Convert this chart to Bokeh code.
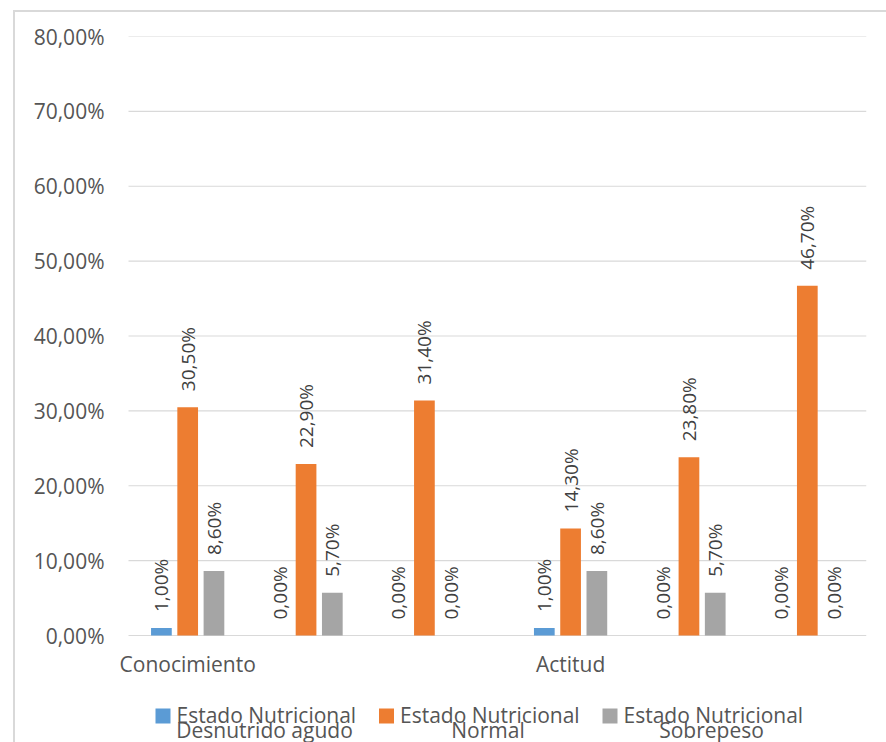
import math

from bokeh.core.properties import value
from bokeh.embed import file_html
from bokeh.models import ColumnDataSource, CustomJSTickFormatter, FixedTicker, Range1d
from bokeh.plotting import figure
from bokeh.resources import INLINE

# ---- data -------------------------------------------------------------
groups = ["Conocimiento", "Conocimiento", "Conocimiento", "Actitud", "Actitud", "Actitud"]
series_names = [
    ("Estado Nutricional", "Desnutrido agudo"),
    ("Estado Nutricional", "Normal"),
    ("Estado Nutricional", "Sobrepeso"),
]
desnutrido_agudo = [1.00, 0.00, 0.00, 1.00, 0.00, 0.00]
normal = [30.50, 22.90, 31.40, 14.30, 23.80, 46.70]
sobrepeso = [8.60, 5.70, 0.00, 8.60, 5.70, 0.00]
y_ticks = [0, 10, 20, 30, 40, 50, 60, 70, 80]

colors = ["#5B9BD5", "#ED7D31", "#A5A5A5"]

# ---- layout constants (pixels on the page) ----------------------------
W, H = 886, 742
FRAME_LEFT = 110           # drawing area starts here so the group label fits
PLOT_LEFT, PLOT_RIGHT = 128, 866   # extent of the value grid
FRAME_TOP, ZERO_Y = 36, 635
GROUP_GAP = 0.235          # extra space between the two groups, in cluster slots
BAR_W = 0.175
DODGE = 0.222
FONT = "Open Sans"
TEXT_COLOR = "#555555"
GRID_COLOR = "#d9d9d9"
BASELINE_FIX = 8           # lift horizontal texts onto their baseline

n = len(groups)
x_max = n + GROUP_GAP
px_per_x = (PLOT_RIGHT - PLOT_LEFT) / x_max
px_per_y = (ZERO_Y - FRAME_TOP) / y_ticks[-1]
x_start = -(PLOT_LEFT - FRAME_LEFT) / px_per_x
y_bottom = -(H - ZERO_Y) / px_per_y


def px_x(px):
    return (px - PLOT_LEFT) / px_per_x


def px_y(py):
    return (ZERO_Y - py) / px_per_y


def text_y(py):
    return px_y(py - BASELINE_FIX)


# cluster centres: one slot per cluster, a small gap where the group changes
centers = []
shift = 0.0
for i, g in enumerate(groups):
    if i > 0 and g != groups[i - 1]:
        shift += GROUP_GAP
    centers.append(i + 0.5 + shift)


def fmt(v):
    return f"{v:.2f}".replace(".", ",") + "%"


p = figure(
    width=W,
    height=H,
    x_range=Range1d(x_start, x_max),
    y_range=Range1d(y_bottom, y_ticks[-1]),
    x_axis_location=None,
    output_backend="svg",
    toolbar_location=None,
    min_border_left=FRAME_LEFT,
    min_border_right=W - PLOT_RIGHT,
    min_border_top=FRAME_TOP,
    min_border_bottom=0,
    styles={
        "background": (
            "linear-gradient(#d9d9d9,#d9d9d9) 13px 10px / 2px 732px no-repeat,"
            "linear-gradient(#d9d9d9,#d9d9d9) 13px 10px / 873px 2px no-repeat,"
            "#ffffff"
        )
    },
)
p.border_fill_alpha = 0
p.background_fill_color = "white"
p.outline_line_color = None
p.grid.visible = False

# horizontal value grid, spanning only the category area
p.segment(x0=0, x1=x_max, y0=y_ticks, y1=y_ticks, line_color=GRID_COLOR,
          line_width=1.2)

ax = p.yaxis[0]
ax.ticker = FixedTicker(ticks=y_ticks)
ax.formatter = CustomJSTickFormatter(code="return tick.toFixed(2).replace('.', ',') + '%';")
ax.axis_line_color = None
ax.major_tick_line_color = None
ax.minor_tick_line_color = None
ax.major_tick_in = 0
ax.major_tick_out = 0
ax.major_label_standoff = FRAME_LEFT - 104
ax.major_label_text_font = FONT
ax.major_label_text_font_size = "21px"
ax.major_label_text_color = TEXT_COLOR

# ---- bars and their value labels --------------------------------------
offsets = [-DODGE, 0.0, DODGE]
for vals, off, col in zip([desnutrido_agudo, normal, sobrepeso], offsets, colors):
    xs = [c + off for c in centers]
    src = ColumnDataSource(dict(x=xs, top=vals, label=[fmt(v) for v in vals]))
    p.vbar(x="x", top="top", bottom=0, width=BAR_W, source=src,
           fill_color=col, line_color=None)
    p.text(x="x", y="top", text="label", source=src, angle=math.pi / 2,
           text_align="left", text_baseline="middle", y_offset=-16,
           text_font=value(FONT), text_font_size="19px", text_color="#404040")

# ---- group labels under the first cluster of each group ---------------
first_idx = [i for i, g in enumerate(groups) if i == 0 or g != groups[i - 1]]
cat_src = ColumnDataSource(dict(
    x=[centers[i] for i in first_idx],
    y=[text_y(671)] * len(first_idx),
    text=[groups[i] for i in first_idx],
))
p.text(x="x", y="y", text="text", source=cat_src, text_align="center",
       text_baseline="alphabetic", text_font=value(FONT),
       text_font_size="21px", text_color=TEXT_COLOR)

# ---- legend: swatch, first line, centred second line ------------------
LEG_LEFT, LEG_STEP = 155, 223.5
sw_x, sw_y, l1_x, l1_y, l2_x, l2_y, l1_t, l2_t = [], [], [], [], [], [], [], []
for k, (line1, line2) in enumerate(series_names):
    left = LEG_LEFT + k * LEG_STEP
    sw_x.append(px_x(left + 7.5))
    sw_y.append(px_y(715.5))
    l1_x.append(px_x(left + 21))
    l1_y.append(text_y(722))
    l2_x.append(px_x(left + 109))
    l2_y.append(text_y(737))
    l1_t.append(line1)
    l2_t.append(line2)

p.scatter(x=sw_x, y=sw_y, marker="square", size=15, fill_color=colors,
          line_color=None)
p.text(x=l1_x, y=l1_y, text=l1_t, text_align="left", text_baseline="alphabetic",
       text_font=value(FONT), text_font_size="21px", text_color=TEXT_COLOR)
p.text(x=l2_x, y=l2_y, text=l2_t, text_align="center", text_baseline="alphabetic",
       text_font=value(FONT), text_font_size="21px", text_color=TEXT_COLOR)

open("out.html", "w").write(file_html(p, INLINE))
